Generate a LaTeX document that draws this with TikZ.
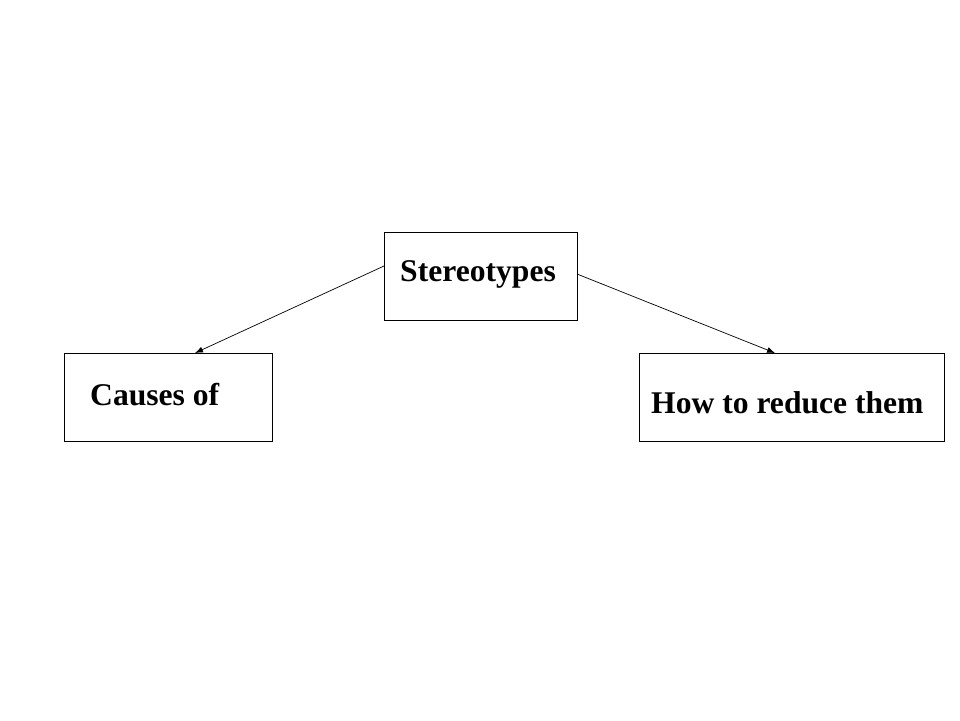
\documentclass[tikz,border=0pt]{standalone}
\usepackage{fontspec}
\setmainfont{Liberation Serif}
\usetikzlibrary{arrows.meta}
\begin{document}
\begin{tikzpicture}[x=1pt,y=-1pt,
  boxst/.style={draw=black,line width=1pt,fill=white},
  lbl/.style={font=\bfseries\fontsize{31.6}{36}\selectfont,inner sep=0pt,anchor=base west},
  conn/.style={line width=0.7pt,-{Latex[length=8pt,width=6pt]}}]
\useasboundingbox (0,0) rectangle (960,720);
\fill[white] (0,0) rectangle (960,720);
\draw[boxst] (384,232) rectangle (577,320);
\draw[boxst] (64,353) rectangle (272,441);
\draw[boxst] (639,353) rectangle (944,441);
\coordinate (s1) at (384,266);
\coordinate (s2) at (577,274);
\coordinate (c1) at (195,353);
\coordinate (h1) at (775,353);
\node[lbl] (st) at (400,281) {Stereotypes};
\node[lbl] (ca) at (90,405) {Causes of};
\node[lbl] (hw) at (651,413) {How to reduce them};
\draw[conn] (s1) -- (c1);
\draw[conn] (s2) -- (h1);
\end{tikzpicture}
\end{document}
